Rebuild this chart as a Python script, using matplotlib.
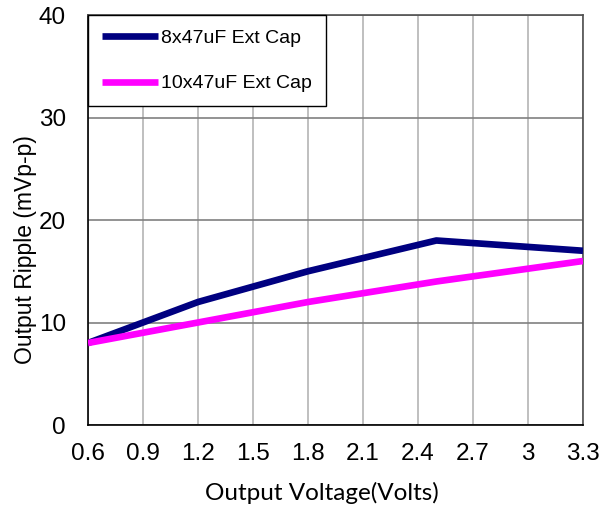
import matplotlib

matplotlib.use("Agg")
import matplotlib.pyplot as plt

# Output ripple vs output voltage
vout = [0.6, 1.2, 1.8, 2.5, 3.3]
ripple_8x47 = [8, 12, 15, 18, 17]
ripple_10x47 = [8, 10, 12, 14, 16]
xticks = [0.6, 0.9, 1.2, 1.5, 1.8, 2.1, 2.4, 2.7, 3.0, 3.3]
xtick_labels = ["0.6", "0.9", "1.2", "1.5", "1.8", "2.1", "2.4", "2.7", "3", "3.3"]
yticks = [0, 10, 20, 30, 40]

plt.rcParams["font.family"] = ["Liberation Sans", "DejaVu Sans"]

fig = plt.figure(figsize=(6.13, 5.11), dpi=100)
ax = fig.add_axes([88 / 613, 1 - 425 / 511, 495 / 613, 410 / 511])

ax.plot(vout, ripple_8x47, color="#000080", linewidth=4.8, label="8x47uF Ext Cap",
        solid_capstyle="butt", zorder=3)
ax.plot(vout, ripple_10x47, color="#ff00ff", linewidth=4.8, label="10x47uF Ext Cap",
        solid_capstyle="butt", zorder=3)

ax.set_xlim(0.6, 3.3)
ax.set_ylim(0, 40)
ax.set_xticks(xticks)
ax.set_xticklabels(xtick_labels)
ax.set_yticks(yticks)
ax.tick_params(axis="both", length=0, labelsize=17.5)
ax.tick_params(axis="x", pad=13)
ax.tick_params(axis="y", pad=16)

ax.xaxis.grid(True, color="#b4b4b4", linewidth=1.2)
ax.yaxis.grid(True, color="#808080", linewidth=1.2)
ax.set_axisbelow(True)

for side in ("left", "bottom"):
    ax.spines[side].set_color("black")
    ax.spines[side].set_linewidth(1.2)
for side in ("top", "right"):
    ax.spines[side].set_color("#505050")
    ax.spines[side].set_linewidth(1.2)

ax.set_xlabel("Output Voltage(Volts)", fontsize=17.5, family=["Lato", "DejaVu Sans"])
ax.set_ylabel("Output Ripple (mVp-p)", fontsize=16.5, family=["Liberation Sans"])
ax.xaxis.set_label_coords((322 - 88) / 495, -(482 - 425) / 410)
ax.yaxis.set_label_coords(-(88 - 37) / 495, (425 - 250) / 410)

leg = ax.legend(loc="upper left", bbox_to_anchor=(0, 1), borderaxespad=0,
                fontsize=14, handlelength=2.9, handletextpad=0.15,
                labelspacing=1.45, borderpad=0.72, fancybox=False,
                framealpha=1, edgecolor="black")
leg.get_frame().set_linewidth(1.0)

fig.savefig("out.png", dpi=100)
